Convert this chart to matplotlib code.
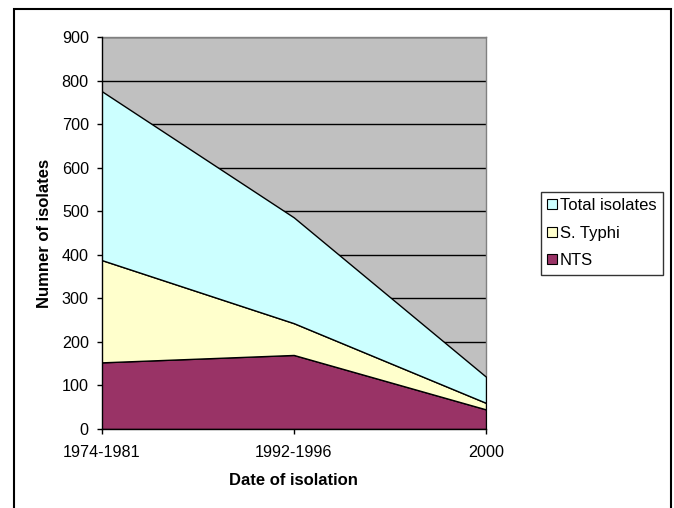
import matplotlib
matplotlib.use("Agg")
import matplotlib.pyplot as plt
from matplotlib.patches import Rectangle, Patch

plt.rcParams['font.family'] = ['Liberation Sans', 'DejaVu Sans']

categories = ["1974-1981", "1992-1996", "2000"]
nts = [153, 170, 45]
s_typhi = [235, 73, 15]
total = [388, 243, 60]
yticks = [0, 100, 200, 300, 400, 500, 600, 700, 800, 900]

W, H = 674, 508
fig = plt.figure(figsize=(W / 100, H / 100), dpi=100)
ax = fig.add_axes([101.5 / W, 1 - 429 / H, (486 - 101.5) / W, (429 - 37) / H])

x = list(range(len(categories)))
colors = ["#993366", "#FFFFCC", "#CCFFFF"]
ax.set_facecolor("#C0C0C0")
ax.stackplot(x, nts, s_typhi, total, colors=colors, edgecolor="black",
             linewidth=1.0, zorder=3)

ax.set_xlim(0, len(categories) - 1)
ax.set_ylim(0, 900)
ax.set_yticks(yticks)
ax.set_xticks(x)
ax.set_xticklabels(categories)
ax.yaxis.grid(True, color="black", linewidth=1.0, zorder=1)
ax.set_axisbelow(True)
ax.tick_params(axis="both", direction="out", length=3.6, width=1, labelsize=11.6,
               colors="black")
ax.tick_params(axis="y", pad=5.5)
ax.tick_params(axis="x", pad=8)

for s in ["top", "right"]:
    ax.spines[s].set_color("#808080")
    ax.spines[s].set_linewidth(1)
for s in ["left", "bottom"]:
    ax.spines[s].set_color("black")
    ax.spines[s].set_linewidth(1)
    ax.spines[s].set_zorder(5)

ax.set_ylabel("Numner of isolates", fontsize=12, fontweight="bold", labelpad=7)
ax.set_xlabel("Date of isolation", fontsize=12, fontweight="bold", labelpad=9)

labels = ["Total isolates", "S. Typhi", "NTS"]
handles = [Patch(facecolor=c, edgecolor="black", linewidth=0.8)
           for c in [colors[2], colors[1], colors[0]]]
leg = fig.legend(handles, labels, loc="upper left",
                 bbox_to_anchor=(541 / W, 1 - 192 / H), fontsize=12,
                 frameon=True, fancybox=False, edgecolor="black",
                 handlelength=0.55, handleheight=0.55, handletextpad=0.2,
                 borderpad=0.38, labelspacing=0.75, borderaxespad=0)
leg.get_frame().set_linewidth(1)

fig.patches.append(Rectangle((13.5 / W, -0.02), (671 - 13.5) / W, 1.02 - 9.5 / H,
                             transform=fig.transFigure, fill=False,
                             edgecolor="black", linewidth=1.5))

fig.savefig("out.png", dpi=100)
